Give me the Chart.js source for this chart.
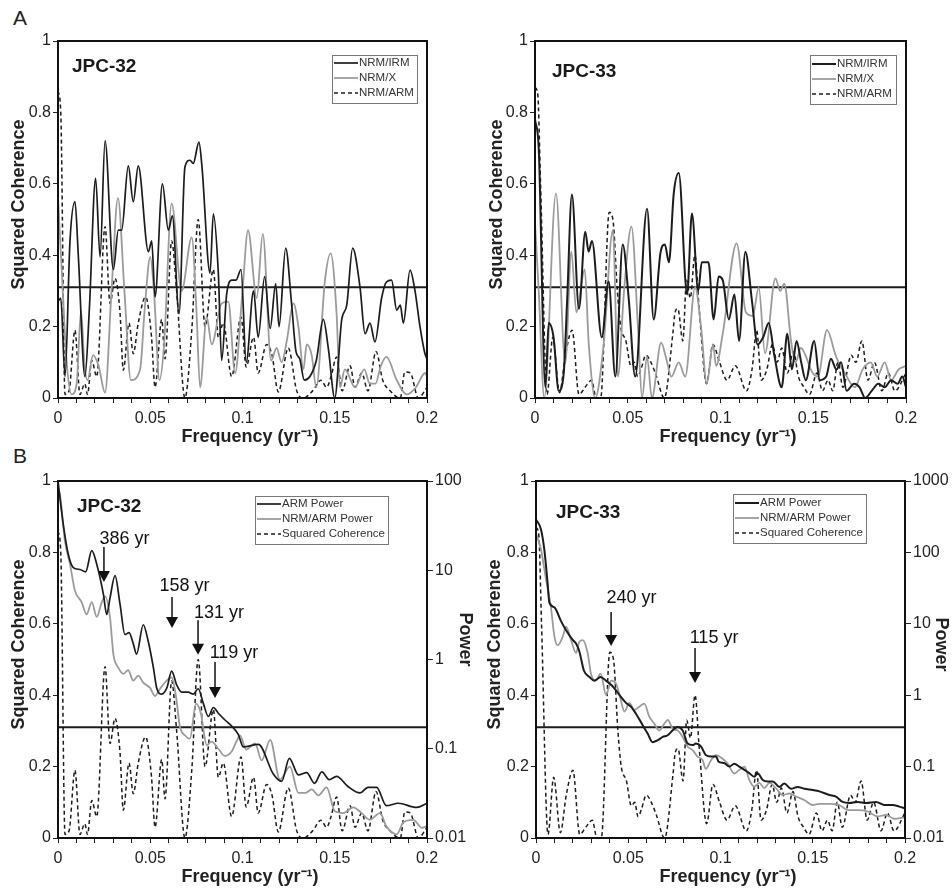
<!DOCTYPE html>
<html>
<head>
<meta charset="utf-8">
<title>JPC-32 / JPC-33 coherence and power spectra</title>
<script src="https://cdn.jsdelivr.net/npm/chart.js@4.4.1/dist/chart.umd.min.js"></script>
<style>
  body { margin: 0; background: #fff; }
  #page { position: relative; width: 952px; height: 894px; overflow: hidden; font-family: "Liberation Sans", Arial, sans-serif; }
  canvas { position: absolute; }
  .tag { position: absolute; font-size: 21px; color: #222; }
</style>
</head>
<body>
<div id="page">
  <div class="tag" style="left:13px;top:6px">A</div>
  <div class="tag" style="left:13px;top:444px">B</div>
  <canvas id="a32" width="476" height="452" style="left:0;top:0"></canvas>
  <canvas id="a33" width="476" height="452" style="left:476px;top:0"></canvas>
  <canvas id="b32" width="476" height="454" style="left:0;top:440px"></canvas>
  <canvas id="b33" width="476" height="454" style="left:476px;top:440px"></canvas>
</div>
<script>
// ---- data: [frequency (1/yr), value] ----

// significance level of squared coherence
const sigLevel = 0.31;

// tick values of the power axes
const powerTicks32 = [0.01, 0.1, 1, 10, 100];
const powerTicks33 = [0.01, 0.1, 1, 10, 100, 1000];

// A, JPC-32 squared coherence
const a32Irm = [[0,0.27],[0.0015,0.28],[0.0038,0.06],[0.0065,0.44],[0.0092,0.55],[0.011,0.4],[0.0146,0.06],[0.017,0.25],[0.0204,0.615],[0.0228,0.395],[0.0255,0.72],[0.03,0.36],[0.0327,0.47],[0.0345,0.47],[0.0381,0.65],[0.0408,0.55],[0.0435,0.65],[0.049,0.41],[0.0508,0.44],[0.0526,0.283],[0.0566,0.6],[0.0598,0.47],[0.062,0.51],[0.0656,0.236],[0.0688,0.647],[0.0715,0.666],[0.0733,0.657],[0.0764,0.717],[0.078,0.65],[0.0824,0.35],[0.0842,0.516],[0.0869,0.35],[0.0887,0.105],[0.0914,0.29],[0.0941,0.33],[0.0965,0.33],[0.0992,0.36],[0.102,0.1],[0.106,0.3],[0.1085,0.17],[0.112,0.34],[0.115,0.195],[0.118,0.32],[0.1198,0.2],[0.1234,0.42],[0.1265,0.27],[0.129,0.13],[0.131,0.11],[0.1335,0.05],[0.1365,0.06],[0.14,0.105],[0.1438,0.22],[0.1465,0.14],[0.15,0],[0.1538,0.22],[0.1565,0.26],[0.1597,0.42],[0.1637,0.31],[0.1664,0.18],[0.1691,0.21],[0.1718,0.157],[0.1754,0.28],[0.178,0.325],[0.1808,0.33],[0.1836,0.246],[0.1855,0.26],[0.1872,0.21],[0.1908,0.358],[0.1935,0.3],[0.1962,0.2],[0.1989,0.124],[0.2,0.11]];
const a32X = [[0,0.563],[0.002,0.36],[0.0047,0.1],[0.0074,0.01],[0.0101,0.04],[0.0125,0.245],[0.0143,0.096],[0.016,0.05],[0.019,0.12],[0.022,0.09],[0.0255,0.015],[0.029,0.3],[0.0325,0.56],[0.036,0.3],[0.0395,0.05],[0.0445,0.08],[0.047,0.25],[0.05,0.395],[0.052,0.3],[0.055,0.05],[0.0575,0.15],[0.0616,0.545],[0.067,0.3],[0.0725,0.45],[0.075,0.25],[0.077,0.03],[0.0806,0.227],[0.0833,0.15],[0.0887,0.265],[0.0923,0.27],[0.096,0.07],[0.1,0.3],[0.103,0.47],[0.1077,0.28],[0.111,0.46],[0.1155,0.105],[0.1185,0.14],[0.1212,0.1],[0.124,0.16],[0.1276,0.265],[0.1303,0.2],[0.133,0.08],[0.1348,0.15],[0.1375,0.12],[0.14,0.03],[0.1447,0.33],[0.1478,0.405],[0.151,0.236],[0.1528,0.03],[0.1555,0.08],[0.161,0.03],[0.166,0.08],[0.169,0.04],[0.172,0.04],[0.175,0.09],[0.178,0.115],[0.1836,0.05],[0.189,0.01],[0.194,0.03],[0.199,0.07],[0.2,0.06]];
const a32Arm = [[0,0.86],[0.0015,0.8],[0.0038,0.01],[0.006,0.02],[0.0092,0.19],[0.0119,0.01],[0.0145,0.04],[0.016,0.01],[0.0183,0.105],[0.021,0.06],[0.0255,0.48],[0.0282,0.265],[0.0309,0.335],[0.0336,0.24],[0.0354,0.078],[0.0385,0.21],[0.0408,0.124],[0.0435,0.21],[0.0475,0.283],[0.0507,0.17],[0.0526,0.03],[0.0562,0.22],[0.058,0.11],[0.0616,0.44],[0.0643,0.3],[0.0688,0],[0.0725,0.19],[0.076,0.5],[0.0797,0.2],[0.0842,0.36],[0.0869,0.17],[0.0896,0.21],[0.0941,0.06],[0.0992,0.227],[0.102,0.087],[0.106,0.17],[0.1085,0.07],[0.1131,0.15],[0.116,0.12],[0.1194,0.017],[0.1248,0.14],[0.1294,0.02],[0.133,0],[0.138,0.02],[0.1425,0.05],[0.1456,0.03],[0.148,0.06],[0.151,0.115],[0.154,0.02],[0.1583,0.09],[0.161,0.03],[0.1646,0.07],[0.168,0.02],[0.1724,0.13],[0.176,0.05],[0.18,0.02],[0.1855,0],[0.188,0.073],[0.191,0.07],[0.1953,0],[0.2,0.03]];

// A, JPC-33 squared coherence
const a33Irm = [[0,0.78],[0.002,0.7],[0.0056,0.03],[0.0074,0.21],[0.01,0.17],[0.0128,0.02],[0.0155,0.07],[0.0173,0.27],[0.0199,0.57],[0.0237,0.25],[0.0271,0.466],[0.0289,0.41],[0.0307,0.44],[0.036,0.17],[0.0397,0.326],[0.0433,0.06],[0.0473,0.43],[0.0505,0.28],[0.054,0.06],[0.0604,0.53],[0.064,0.22],[0.0676,0.405],[0.07,0.43],[0.0722,0.38],[0.0748,0.573],[0.0775,0.63],[0.082,0.29],[0.0846,0.517],[0.088,0.3],[0.0899,0.38],[0.0935,0.38],[0.0963,0.22],[0.099,0.34],[0.1012,0.33],[0.1045,0.22],[0.1075,0.29],[0.11,0.16],[0.1134,0.41],[0.117,0.27],[0.12,0.15],[0.123,0.17],[0.126,0.21],[0.129,0.12],[0.133,0.03],[0.136,0.18],[0.1385,0.08],[0.141,0.16],[0.1435,0.1],[0.146,0.05],[0.1505,0.16],[0.1535,0.05],[0.157,0.06],[0.1595,0.11],[0.1625,0.08],[0.165,0.1],[0.168,0.02],[0.172,0.04],[0.175,0.03],[0.178,0],[0.1815,0.02],[0.185,0.04],[0.1885,0.03],[0.192,0.05],[0.1955,0.04],[0.198,0.06],[0.2,0.03]];
const a33X = [[0,0.49],[0.002,0.3],[0.005,0],[0.0113,0.573],[0.0163,0.098],[0.0196,0.41],[0.0223,0.24],[0.0268,0.36],[0.029,0.15],[0.0325,0],[0.037,0.15],[0.042,0.47],[0.0447,0.06],[0.048,0.3],[0.052,0.48],[0.0555,0.2],[0.0577,0],[0.0604,0.115],[0.063,0],[0.068,0.155],[0.071,0.105],[0.0735,0.06],[0.0775,0.1],[0.081,0.06],[0.0863,0.31],[0.0895,0.2],[0.0926,0.04],[0.096,0.15],[0.0976,0.09],[0.1012,0.18],[0.1087,0.433],[0.1137,0.24],[0.1174,0.23],[0.1206,0.31],[0.124,0.125],[0.1296,0.335],[0.1322,0.3],[0.1344,0.32],[0.138,0.16],[0.1405,0.1],[0.1433,0.14],[0.1497,0.07],[0.1525,0.06],[0.1574,0.19],[0.1623,0.116],[0.167,0.07],[0.1725,0.03],[0.1766,0.08],[0.181,0.1],[0.1845,0.06],[0.1885,0.1],[0.192,0.05],[0.196,0.08],[0.2,0.09]];
const a33Arm = [[0,0.87],[0.0015,0.85],[0.003,0.6],[0.0065,0.01],[0.0096,0.17],[0.0132,0.015],[0.0164,0.12],[0.02,0.19],[0.0237,0.01],[0.027,0.03],[0.0305,0.05],[0.033,0],[0.0354,0],[0.04,0.52],[0.042,0.5],[0.0444,0.3],[0.0462,0.2],[0.049,0.16],[0.0517,0.09],[0.0535,0.1],[0.0553,0.06],[0.0571,0.08],[0.0598,0.12],[0.0625,0.1],[0.0652,0.065],[0.0697,0],[0.0743,0.18],[0.0755,0.24],[0.077,0.25],[0.0797,0.16],[0.0817,0.33],[0.0837,0.28],[0.0862,0.4],[0.0885,0.25],[0.0925,0.04],[0.0959,0.15],[0.0995,0.1],[0.1035,0.05],[0.108,0.09],[0.114,0.02],[0.117,0.08],[0.1195,0.19],[0.122,0.05],[0.125,0.08],[0.128,0.15],[0.1305,0.1],[0.133,0.14],[0.136,0.07],[0.1393,0.13],[0.142,0.06],[0.145,0.03],[0.148,0.01],[0.152,0.07],[0.155,0.02],[0.158,0.05],[0.1605,0.02],[0.1633,0.1],[0.166,0.03],[0.1705,0.12],[0.173,0.1],[0.1762,0.16],[0.1795,0.05],[0.183,0.1],[0.187,0.02],[0.1905,0.07],[0.194,0.02],[0.2,0.07]];

// B, power spectra
const b32ArmPow = [[0,100],[0.0029,32],[0.0056,15],[0.0083,10.7],[0.0119,10.2],[0.015,9.6],[0.0183,16.6],[0.021,11.7],[0.0246,5.4],[0.0264,3.2],[0.0282,4.9],[0.0309,8.7],[0.0336,4.2],[0.0363,1.9],[0.0385,2.0],[0.0408,1.5],[0.0426,1.15],[0.0462,2.45],[0.0489,1.6],[0.0517,0.81],[0.0535,0.48],[0.0562,0.41],[0.059,0.48],[0.0616,0.74],[0.0643,0.52],[0.067,0.43],[0.0706,0.43],[0.0733,0.41],[0.076,0.47],[0.0788,0.32],[0.0815,0.23],[0.0842,0.29],[0.0869,0.25],[0.0905,0.21],[0.0941,0.18],[0.0977,0.145],[0.1004,0.105],[0.1086,0.112],[0.1167,0.052],[0.1212,0.043],[0.1254,0.078],[0.1303,0.051],[0.1348,0.054],[0.139,0.041],[0.143,0.055],[0.147,0.045],[0.151,0.049],[0.157,0.038],[0.1637,0.032],[0.168,0.037],[0.1727,0.037],[0.178,0.023],[0.1845,0.0245],[0.1944,0.022],[0.2,0.0245]];
const b32NrmPow = [[0,80],[0.001,71],[0.0038,21],[0.0065,11.7],[0.0092,5.9],[0.0128,4.4],[0.0155,3.2],[0.0183,4.4],[0.021,3.0],[0.0236,4.3],[0.0255,5.1],[0.0282,2.95],[0.03,1.15],[0.0327,0.81],[0.0354,0.69],[0.038,0.76],[0.0408,0.58],[0.0435,0.66],[0.0462,0.55],[0.0499,0.48],[0.0526,0.39],[0.0553,0.47],[0.0589,0.58],[0.0616,0.63],[0.064,0.38],[0.066,0.18],[0.069,0.14],[0.0715,0.13],[0.0748,0.32],[0.0775,0.245],[0.0806,0.11],[0.0833,0.12],[0.0869,0.1],[0.0905,0.083],[0.0941,0.093],[0.0969,0.123],[0.0986,0.141],[0.102,0.098],[0.1068,0.115],[0.1104,0.074],[0.115,0.126],[0.1203,0.045],[0.1257,0.063],[0.1303,0.032],[0.134,0.032],[0.1375,0.035],[0.1412,0.03],[0.1456,0.037],[0.15,0.02],[0.1546,0.019],[0.16,0.022],[0.1646,0.019],[0.169,0.016],[0.1745,0.019],[0.178,0.0135],[0.1836,0.011],[0.1872,0.015],[0.1926,0.016],[0.1972,0.013],[0.2,0.0135]];
const b33ArmPow = [[0,290],[0.0027,210],[0.0045,110],[0.0063,37],[0.0072,20],[0.01,17],[0.0135,11],[0.0163,8.1],[0.02,5.9],[0.0217,5.3],[0.0235,4.1],[0.026,2.2],[0.029,1.8],[0.0316,1.6],[0.0334,1.7],[0.035,1.8],[0.0379,1.6],[0.0407,1.4],[0.0434,1.17],[0.046,0.95],[0.0488,0.78],[0.0515,0.69],[0.0542,0.55],[0.0578,0.38],[0.0605,0.29],[0.0632,0.22],[0.066,0.235],[0.0687,0.26],[0.0714,0.275],[0.074,0.32],[0.0768,0.36],[0.0795,0.32],[0.0822,0.21],[0.0849,0.2],[0.0867,0.21],[0.0895,0.19],[0.092,0.145],[0.0949,0.138],[0.0976,0.138],[0.099,0.117],[0.102,0.112],[0.1048,0.1],[0.1075,0.11],[0.1102,0.1],[0.113,0.09],[0.1156,0.081],[0.1183,0.072],[0.1201,0.081],[0.1229,0.065],[0.1256,0.062],[0.1283,0.062],[0.1319,0.052],[0.1346,0.058],[0.1382,0.049],[0.1418,0.052],[0.1454,0.049],[0.15,0.047],[0.1536,0.045],[0.159,0.04],[0.1626,0.038],[0.1662,0.032],[0.1698,0.031],[0.1743,0.032],[0.1789,0.031],[0.1843,0.032],[0.1888,0.029],[0.1933,0.029],[0.1969,0.0275],[0.2,0.026]];
const b33NrmPow = [[0,186],[0.0027,110],[0.0054,42],[0.0081,17],[0.01,6.6],[0.0117,5.0],[0.0145,6.6],[0.0163,9.1],[0.019,5.9],[0.0217,3.9],[0.0235,5.6],[0.0253,5.9],[0.028,3.9],[0.0298,2.0],[0.0325,1.6],[0.035,2.0],[0.038,1.0],[0.0407,1.6],[0.0434,1.45],[0.046,0.85],[0.0479,0.59],[0.0506,0.78],[0.0533,0.62],[0.056,0.69],[0.0587,0.76],[0.0614,0.5],[0.0641,0.4],[0.0668,0.32],[0.0696,0.4],[0.0714,0.45],[0.0741,0.34],[0.0768,0.32],[0.0795,0.26],[0.0822,0.19],[0.0849,0.17],[0.0876,0.138],[0.0903,0.123],[0.092,0.093],[0.0949,0.123],[0.0976,0.145],[0.101,0.13],[0.1039,0.11],[0.1075,0.08],[0.1102,0.09],[0.113,0.1],[0.1156,0.065],[0.1183,0.052],[0.121,0.059],[0.1238,0.05],[0.1265,0.059],[0.13,0.05],[0.1337,0.04],[0.1373,0.042],[0.141,0.038],[0.1454,0.034],[0.15,0.029],[0.1536,0.03],[0.159,0.03],[0.1644,0.029],[0.169,0.0245],[0.1743,0.0245],[0.1798,0.0235],[0.1852,0.02],[0.1897,0.021],[0.1942,0.0186],[0.2,0.0195]];

// period arrows (frequency of arrow, coherence at tail / tip, label position)
const arrows32 = [
  { text: '386 yr', f: 0.0249, from: 0.815, to: 0.717, tf: 0.036, tv: 0.837 },
  { text: '158 yr', f: 0.0618, from: 0.675, to: 0.588, tf: 0.0686, tv: 0.706 },
  { text: '131 yr', f: 0.0759, from: 0.61, to: 0.513, tf: 0.0873, tv: 0.63 },
  { text: '119 yr', f: 0.0851, from: 0.493, to: 0.392, tf: 0.0954, tv: 0.518 }
];
const arrows33 = [
  { text: '240 yr', f: 0.0407, from: 0.633, to: 0.538, tf: 0.0518, tv: 0.672 },
  { text: '115 yr', f: 0.0862, from: 0.532, to: 0.434, tf: 0.0965, tv: 0.56 }
];

// ---- drawing ----
const FONT = '"Liberation Sans", Arial, sans-serif';
Chart.defaults.font.family = FONT;
Chart.defaults.color = '#222';

const BLACK = '#1c1c1c', GRAY = '#9b9b9b';
const solidBlack = { borderColor: BLACK, borderWidth: 1.7 };
const solidGray = { borderColor: GRAY, borderWidth: 1.8 };
const dashed = { borderColor: BLACK, borderWidth: 1.5, borderDash: [4, 3] };

// titles sit a little off centre in the original; pad with spaces to shift them
const pad = n => ' '.repeat(n);

function series(label, pairs, style, axis) {
  return Object.assign({
    label,
    data: pairs.map(([x, y]) => ({ x, y })),
    yAxisID: axis || 'y',
    pointRadius: 0,
    fill: false,
    cubicInterpolationMode: 'monotone'
  }, style);
}

function sigLine() {
  return { data: [{ x: 0, y: sigLevel }, { x: 0.2, y: sigLevel }], borderColor: BLACK, borderWidth: 2, pointRadius: 0, yAxisID: 'y' };
}

function freqScale(height, bottom) {
  return {
    type: 'linear', min: 0, max: 0.2,
    ticks: {
      stepSize: 0.01, autoSkip: false, maxRotation: 0, font: { size: 16 }, padding: 6,
      callback: v => { const k = Math.round(v * 100); return k % 5 === 0 ? String(k / 100) : ''; }
    },
    grid: { drawOnChartArea: false, tickLength: 5, color: '#222' },
    border: { display: false },
    title: { display: true, text: pad(3) + 'Frequency (yr\u207B\u00B9)', font: { size: 18, weight: 'bold' }, padding: { top: 0, bottom } },
    afterFit: s => { s.height = height; }
  };
}

function cohScale(width, left) {
  return {
    type: 'linear', position: 'left', min: 0, max: 1,
    ticks: { stepSize: 0.2, font: { size: 16 }, padding: 2, callback: v => String(Math.round(v * 10) / 10) },
    grid: { drawOnChartArea: false, tickLength: 5, color: '#222' },
    border: { display: false },
    title: { display: true, text: pad(6) + 'Squared Coherence', font: { size: 18, weight: 'bold' }, padding: { top: left } },
    afterFit: s => { s.width = width; }
  };
}

function powerScale(tickVals, width, shift) {
  return {
    type: 'logarithmic', position: 'right', min: tickVals[0], max: tickVals[tickVals.length - 1],
    afterBuildTicks: s => { s.ticks = tickVals.map(value => ({ value })); },
    ticks: { font: { size: 16 }, padding: 2, callback: v => String(v) },
    grid: { drawOnChartArea: false, tickLength: 6, color: '#222' },
    border: { display: false },
    title: { display: true, text: 'Power' + pad(shift), font: { size: 18, weight: 'bold' }, padding: { top: 0 } },
    afterFit: s => { s.width = width; }
  };
}

// box round the plot area
const frame = {
  id: 'frame',
  afterDatasetsDraw(chart) {
    const { ctx, chartArea: a } = chart;
    ctx.save();
    ctx.strokeStyle = '#111';
    ctx.lineWidth = 2;
    ctx.strokeRect(a.left, a.top, a.right - a.left, a.bottom - a.top);
    ctx.restore();
  }
};

// legend inside the plot, top right
const boxLegend = {
  id: 'boxLegend',
  afterDraw(chart, args, o) {
    if (!o.width) return;
    const { ctx, chartArea: a } = chart;
    const left = a.right - o.right - o.width, top = a.top + o.top;
    ctx.save();
    ctx.fillStyle = '#fff';
    ctx.fillRect(left, top, o.width, o.height);
    ctx.strokeStyle = '#777';
    ctx.lineWidth = 1;
    ctx.strokeRect(left + 0.5, top + 0.5, o.width, o.height);
    ctx.font = '11.5px ' + FONT;
    ctx.textBaseline = 'middle';
    chart.data.datasets.filter(d => d.label).forEach((d, i) => {
      const y = top + o.first + i * o.gap;
      ctx.beginPath();
      ctx.setLineDash(d.borderDash || []);
      ctx.strokeStyle = d.borderColor;
      ctx.lineWidth = d.borderWidth;
      ctx.moveTo(left + 2, y);
      ctx.lineTo(left + o.sample, y);
      ctx.stroke();
      ctx.fillStyle = '#333';
      ctx.fillText(d.label, left + o.sample + 1, y);
    });
    ctx.restore();
  }
};

// core name
const coreLabel = {
  id: 'coreLabel',
  afterDraw(chart, args, o) {
    if (!o.text) return;
    const { ctx, chartArea: a } = chart;
    ctx.save();
    ctx.font = 'bold 19px ' + FONT;
    ctx.fillStyle = '#1a1a1a';
    ctx.textBaseline = 'middle';
    ctx.fillText(o.text, a.left + o.dx, a.top + o.dy);
    ctx.restore();
  }
};

// arrows marking the periods
const periodArrows = {
  id: 'periodArrows',
  afterDraw(chart, args, o) {
    if (!o.items) return;
    const { ctx, scales: { x, y } } = chart;
    ctx.save();
    ctx.strokeStyle = '#111';
    ctx.fillStyle = '#111';
    ctx.lineWidth = 1.5;
    ctx.font = '18px ' + FONT;
    ctx.textAlign = 'center';
    ctx.textBaseline = 'middle';
    o.items.forEach(it => {
      const px = x.getPixelForValue(it.f);
      const y0 = y.getPixelForValue(it.from), y1 = y.getPixelForValue(it.to);
      ctx.beginPath();
      ctx.moveTo(px, y0);
      ctx.lineTo(px, y1 - 9);
      ctx.stroke();
      ctx.beginPath();
      ctx.moveTo(px - 6, y1 - 11);
      ctx.lineTo(px + 6, y1 - 11);
      ctx.lineTo(px, y1);
      ctx.closePath();
      ctx.fill();
      ctx.fillText(it.text, x.getPixelForValue(it.tf), y.getPixelForValue(it.tv));
    });
    ctx.restore();
  }
};

Chart.register(frame, boxLegend, coreLabel, periodArrows);

function draw(id, datasets, scales, padding, plugins) {
  return new Chart(document.getElementById(id), {
    type: 'scatter',
    data: { datasets },
    options: {
      responsive: false,
      animation: false,
      showLine: true,
      layout: { padding },
      scales,
      plugins: Object.assign({ legend: { display: false }, tooltip: { enabled: false } }, plugins)
    }
  });
}

draw('a32', [
  series('NRM/IRM', a32Irm, solidBlack),
  series('NRM/X', a32X, solidGray),
  series('NRM/ARM', a32Arm, dashed),
  sigLine()
], { x: freqScale(54, 4), y: cohScale(58, 8) },
{ top: 41, right: 49, left: 0, bottom: 0 },
{ boxLegend: { right: 10, top: 14, width: 85, height: 48, first: 8, gap: 15, sample: 26 },
  coreLabel: { text: 'JPC-32', dx: 14, dy: 26 } });

draw('a33', [
  series('NRM/IRM', a33Irm, Object.assign({}, solidBlack, { borderWidth: 2 })),
  series('NRM/X', a33X, solidGray),
  series('NRM/ARM', a33Arm, dashed),
  sigLine()
], { x: freqScale(54, 4), y: cohScale(59, 10) },
{ top: 41, right: 46, left: 0, bottom: 0 },
{ boxLegend: { right: 10, top: 14, width: 86, height: 49, first: 9, gap: 15, sample: 26 },
  coreLabel: { text: 'JPC-33', dx: 17, dy: 31 } });

draw('b32', [
  series('ARM Power', b32ArmPow, solidBlack, 'yP'),
  series('NRM/ARM Power', b32NrmPow, solidGray, 'yP'),
  series('Squared Coherence', a32Arm, dashed),
  sigLine()
], { x: freqScale(56, 6), y: cohScale(58, 8), yP: powerScale(powerTicks32, 49, 8) },
{ top: 41, right: 0, left: 0, bottom: 0 },
{ boxLegend: { right: 39, top: 15, width: 133, height: 48, first: 8, gap: 15, sample: 26 },
  coreLabel: { text: 'JPC-32', dx: 19, dy: 26 },
  periodArrows: { items: arrows32 } });

draw('b33', [
  series('ARM Power', b33ArmPow, Object.assign({}, solidBlack, { borderWidth: 2 }), 'yP'),
  series('NRM/ARM Power', b33NrmPow, solidGray, 'yP'),
  series('Squared Coherence', a33Arm, dashed),
  sigLine()
], { x: freqScale(56, 6), y: cohScale(60, 8), yP: powerScale(powerTicks33, 47, 6) },
{ top: 41, right: 0, left: 0, bottom: 0 },
{ boxLegend: { right: 39, top: 13, width: 133, height: 49, first: 9, gap: 15, sample: 26 },
  coreLabel: { text: 'JPC-33', dx: 20, dy: 32 },
  periodArrows: { items: arrows33 } });
</script>
</body>
</html>
